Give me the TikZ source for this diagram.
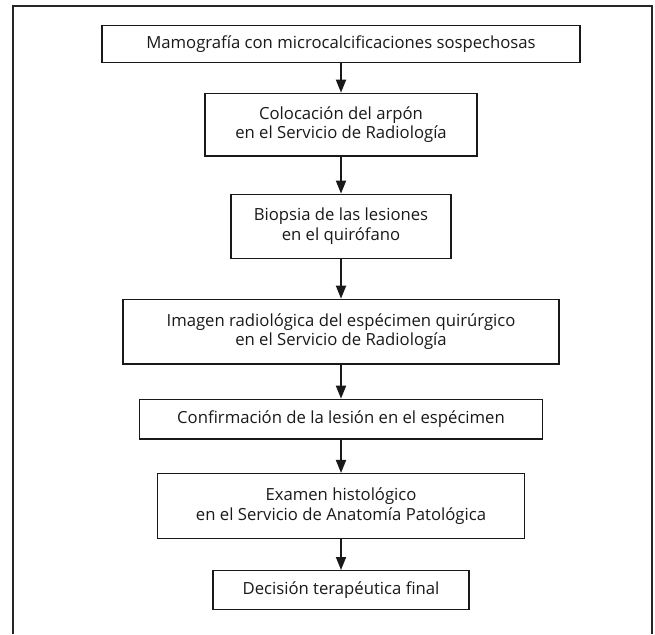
\documentclass[tikz,border=0pt]{standalone}
\usepackage{fontspec}
\setmainfont{Open Sans}
\usepackage{xcolor}
\usetikzlibrary{arrows.meta}

\begin{document}
\begin{tikzpicture}[x=1pt, y=-1pt,
    font=\fontsize{16.7}{19.5}\selectfont,
    box/.style={draw=black!90, line width=1.4pt, align=center, inner sep=0pt, text=black!90},
    arr/.style={draw=black!90, line width=1.8pt, -{Triangle[length=13pt, width=10pt]}}]
  \useasboundingbox (0,0) rectangle (655,634);
  % frame
  \draw[line width=1.2pt, black!85] (13,634) |- (652,6) -- (652,634);
  % boxes
  \node[box, minimum width=478pt, minimum height=37.4pt] (mamo) at (341,44)
    {Mamografía con microcalcificaciones sospechosas};
  \node[box, minimum width=272pt, minimum height=62.7pt] (arpon) at (341,124.7)
    {Colocación del arpón\\en el Servicio de Radiología};
  \node[box, minimum width=220pt, minimum height=64pt] (biopsia) at (341,226.3)
    {Biopsia de las lesiones\\en el quirófano};
  \node[box, minimum width=436pt, minimum height=64.7pt] (imagen) at (341,331.7)
    {Imagen radiológica del espécimen quirúrgico\\en el Servicio de Radiología};
  \node[box, minimum width=402.7pt, minimum height=39.7pt] (confirm) at (341,419.2)
    {Confirmación de la lesión en el espécimen};
  \node[box, minimum width=367pt, minimum height=64.7pt] (examen) at (341,506)
    {Examen histológico\\en el Servicio de Anatomía Patológica};
  \node[box, minimum width=256pt, minimum height=38.6pt] (decision) at (341,590)
    {Decisión terapéutica final};
  % arrows
  \draw[arr] (mamo) -- (arpon);
  \draw[arr] (arpon) -- (biopsia);
  \draw[arr] (biopsia) -- (imagen);
  \draw[arr] (imagen) -- (confirm);
  \draw[arr] (confirm) -- (examen);
  \draw[arr] (examen) -- (decision);
\end{tikzpicture}
\end{document}
